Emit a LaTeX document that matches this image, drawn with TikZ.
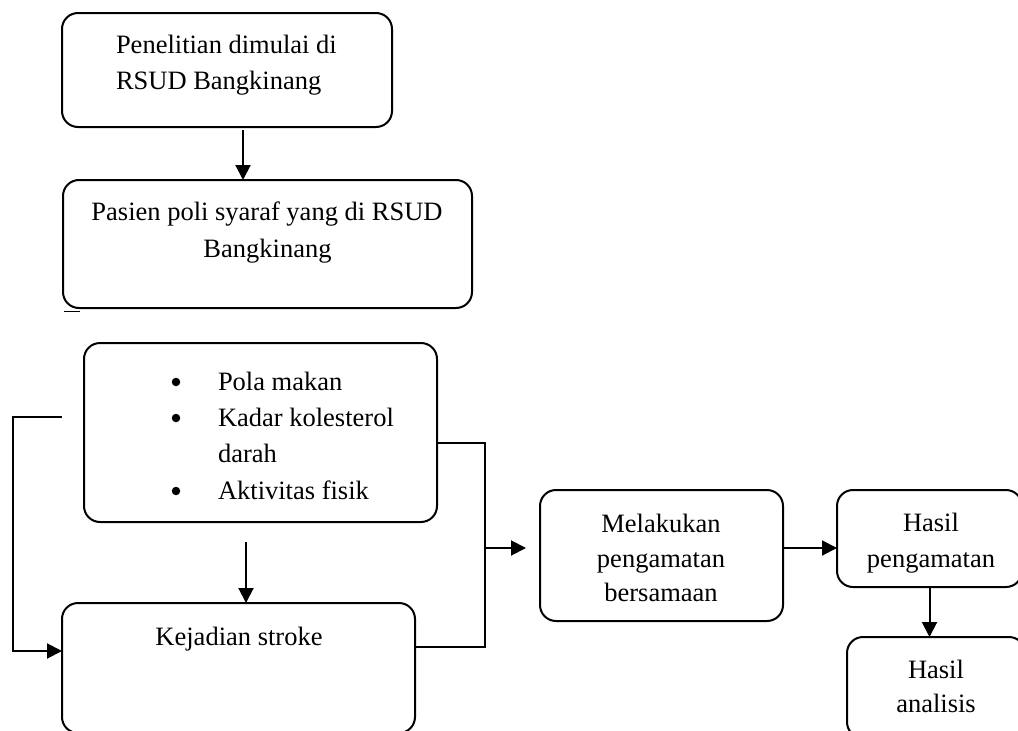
\documentclass[tikz,border=0pt]{standalone}
\usepackage{fontspec}
\setmainfont{Liberation Serif}
\usetikzlibrary{arrows.meta}
\begin{document}
\begin{tikzpicture}[x=1pt,y=-1pt,
  box/.style={draw, line width=2pt, rounded corners=16pt, inner sep=0pt, outer sep=0pt},
  txt/.style={inner sep=0pt, outer sep=0pt, font=\fontsize{26.5}{36}\selectfont},
  dot/.style={circle, fill, inner sep=0pt, minimum size=8.5pt},
  arr/.style={line width=2pt, -{Triangle[length=15pt,width=15pt]}},
  conn/.style={line width=2pt}]
\useasboundingbox (0,0) rectangle (1018,731);
\clip (0,0) rectangle (1018,731);
% boxes
\node[box, minimum width=330pt, minimum height=114pt] (b1) at (227,70) {};
\node[box, minimum width=409pt, minimum height=128pt] (b2) at (267.5,244) {};
\node[box, minimum width=353pt, minimum height=179pt] (b3) at (260.5,432.5) {};
\node[box, minimum width=353pt, minimum height=130pt] (b4) at (238.5,668) {};
\node[box, minimum width=243pt, minimum height=131pt] (b5) at (661.5,555.5) {};
\node[box, minimum width=185pt, minimum height=97pt] (b6) at (929.5,538.5) {};
\node[box, minimum width=178pt, minimum height=101pt] (b7) at (936,687.5) {};
% texts
\node[txt, anchor=base west] (t1a) at (116,53) {Penelitian dimulai di};
\node[txt, anchor=base west] (t1b) at (116,89) {RSUD Bangkinang};
\node[txt, anchor=base] (t2a) at (267,220) {Pasien poli syaraf yang di RSUD};
\node[txt, anchor=base] (t2b) at (267.5,257) {Bangkinang};
\node[dot] (u1) at (176,382) {};
\node[dot] (u2) at (176,418) {};
\node[dot] (u3) at (176,491) {};
\node[txt, anchor=base west] (t3a) at (218,390) {Pola makan};
\node[txt, anchor=base west] (t3b) at (218,426) {Kadar kolesterol};
\node[txt, anchor=base west] (t3c) at (218,462) {darah};
\node[txt, anchor=base west] (t3d) at (218,499) {Aktivitas fisik};
\node[txt, anchor=base] (t4) at (239,645) {Kejadian stroke};
\node[txt, anchor=base] (t5a) at (661,532) {Melakukan};
\node[txt, anchor=base] (t5b) at (661,567) {pengamatan};
\node[txt, anchor=base] (t5c) at (661,601) {bersamaan};
\node[txt, anchor=base] (t6a) at (931,531) {Hasil};
\node[txt, anchor=base] (t6b) at (931,567) {pengamatan};
\node[txt, anchor=base] (t7a) at (936,678) {Hasil};
\node[txt, anchor=base] (t7b) at (936,712) {analisis};
% stray mark under box 2
\draw[line width=1pt] (64,311) -- (80,311);
% coordinates
\coordinate (s1) at (243,130);
\coordinate (s2) at (246,542);
\coordinate (l1) at (62,417);
\coordinate (l2) at (13,417);
\coordinate (l3) at (13,651);
\coordinate (j1) at (485,443);
\coordinate (j2) at (485,647);
\coordinate (j3) at (485,548);
\coordinate (tip5) at (526,548);
% connectors
\draw[arr] (s1) -- (s1 |- b2.north);
\draw[arr] (s2) -- (s2 |- b4.north);
\draw[arr] (l1) -- (l2) -- (l3) -- (b4.west |- l3);
\draw[conn] (b3.east |- j1) -- (j1) -- (j2) -- (b4.east |- j2);
\draw[arr] (j3) -- (tip5);
\draw[arr] (b5.east |- j3) -- (b6.west |- j3);
\draw[arr] (b6.south) -- (b6.south |- b7.north);
\end{tikzpicture}
\end{document}
